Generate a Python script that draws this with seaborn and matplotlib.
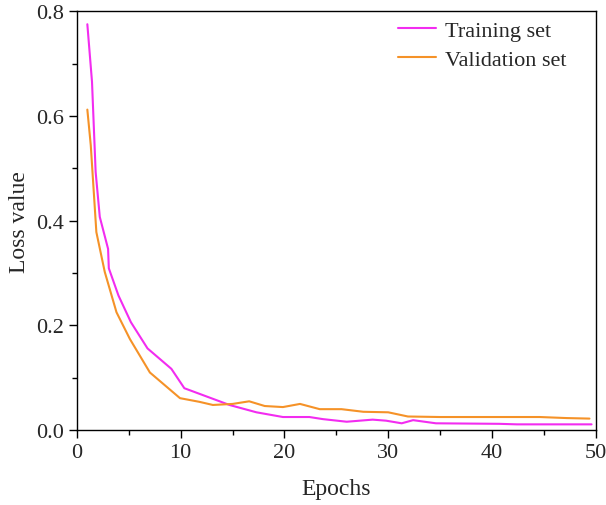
import numpy as np
import pandas as pd
import matplotlib.pyplot as plt
import seaborn as sns
from matplotlib.ticker import MultipleLocator

# breakpoints
train_epoch = [1.0, 1.45, 1.8, 2.2, 3.0, 3.07, 4.0, 5.2, 6.8, 9.1, 10.35,
               14.7, 17.3, 19.85, 22.4, 23.7, 26.0, 28.5, 29.8, 31.3, 32.4,
               34.6, 40.7, 42.4, 49.6]
train_loss = [0.775, 0.665, 0.493, 0.407, 0.346, 0.309, 0.257, 0.206, 0.156,
              0.117, 0.080, 0.048, 0.034, 0.025, 0.025, 0.021, 0.016, 0.020,
              0.018, 0.013, 0.019, 0.013, 0.012, 0.011, 0.011]

val_epoch = [1.0, 1.33, 1.87, 2.68, 3.81, 5.1, 7.03, 9.93, 11.8, 13.1, 15.0,
             16.6, 18.1, 19.85, 21.5, 23.4, 25.5, 27.6, 30.0, 31.9, 35.0,
             44.6, 47.2, 49.4]
val_loss = [0.612, 0.544, 0.378, 0.302, 0.225, 0.174, 0.110, 0.061, 0.054,
            0.048, 0.050, 0.055, 0.046, 0.044, 0.050, 0.040, 0.040, 0.035,
            0.034, 0.026, 0.025, 0.025, 0.023, 0.022]

df = pd.concat([
    pd.DataFrame({'Epochs': train_epoch, 'Loss': train_loss, 'Set': 'Training set'}),
    pd.DataFrame({'Epochs': val_epoch, 'Loss': val_loss, 'Set': 'Validation set'}),
])

sns.set_style('ticks')
plt.rcParams['font.family'] = ['Liberation Serif', 'DejaVu Serif']

fig = plt.figure(figsize=(6.06, 5.06), dpi=100)
ax = fig.add_axes([0.127, 0.148, 0.856, 0.828])
sns.lineplot(data=df, x='Epochs', y='Loss', hue='Set', sort=False,
             palette={'Training set': '#F22CF0', 'Validation set': '#F59228'},
             linewidth=1.5, ax=ax)

ax.set_xlim(0, 50)
ax.set_ylim(0, 0.8)
ax.xaxis.set_major_locator(MultipleLocator(10))
ax.xaxis.set_minor_locator(MultipleLocator(5))
ax.yaxis.set_major_locator(MultipleLocator(0.2))
ax.yaxis.set_minor_locator(MultipleLocator(0.1))
ax.tick_params(which='both', direction='out', labelsize=16, width=1, color='black')
ax.tick_params(which='major', length=6)
ax.tick_params(which='minor', length=3.5)
for s in ax.spines.values():
    s.set_linewidth(1)
    s.set_color('black')
ax.set_xlabel('Epochs', fontsize=17, labelpad=11)
ax.set_ylabel('Loss value', fontsize=17, labelpad=4)
ax.legend(frameon=False, fontsize=16, loc='upper right', bbox_to_anchor=(0.96, 1.0),
          handlelength=1.7, handletextpad=0.4, borderaxespad=0.1, borderpad=0.3,
          labelspacing=0.4)

plt.savefig('out.png', dpi=100)
